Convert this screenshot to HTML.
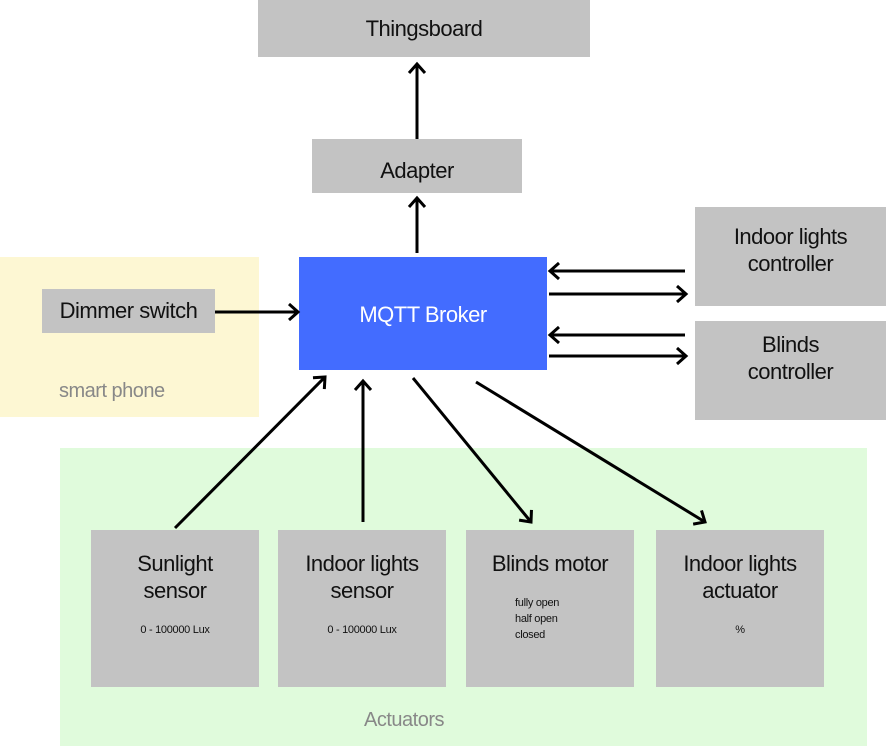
<!DOCTYPE html>
<html><head><style>
body{margin:0;width:886px;height:746px;background:#fff;position:relative;overflow:hidden;font-family:"Liberation Sans",sans-serif}
.b{position:absolute;background:#c3c3c3;color:#111;text-align:center;box-sizing:border-box}
.t{font-size:22px;letter-spacing:-0.5px;line-height:27px}
.s{font-size:11px;letter-spacing:-0.3px}
</style></head><body>
<div style="position:absolute;left:0;top:257px;width:259px;height:160px;background:#fdf7d3"></div>
<div style="position:absolute;left:60px;top:448px;width:807px;height:298px;background:#e0fbdc"></div>
<div style="position:absolute;left:59px;top:380px;font-size:20px;color:#888;letter-spacing:-0.5px">smart phone</div>
<div style="position:absolute;left:364px;top:709px;font-size:20px;color:#888;letter-spacing:-0.5px">Actuators</div>
<div class="b t" style="left:258px;top:0;width:332px;height:57px;padding-top:15px">Thingsboard</div>
<div class="b t" style="left:312px;top:139px;width:210px;height:54px;padding-top:18px">Adapter</div>
<div class="b" style="left:299px;top:257px;width:248px;height:113px;background:#436cff;color:#fff;font-size:22px;padding-top:45px;letter-spacing:-0.5px">MQTT Broker</div>
<div class="b t" style="left:42px;top:289px;width:173px;height:44px;padding-top:8px">Dimmer switch</div>
<div class="b t" style="left:695px;top:207px;width:191px;height:99px;padding-top:16px">Indoor lights<br>controller</div>
<div class="b t" style="left:695px;top:321px;width:191px;height:99px;padding-top:10px">Blinds<br>controller</div>
<div class="b" style="left:91px;top:530px;width:168px;height:157px;padding-top:20px"><div class="t">Sunlight<br>sensor</div><div class="s" style="margin-top:20px">0 - 100000 Lux</div></div>
<div class="b" style="left:278px;top:530px;width:168px;height:157px;padding-top:20px"><div class="t">Indoor lights<br>sensor</div><div class="s" style="margin-top:20px">0 - 100000 Lux</div></div>
<div class="b" style="left:466px;top:530px;width:168px;height:157px;padding-top:20px"><div class="t">Blinds motor</div><div class="s" style="margin-top:18px;text-align:left;padding-left:49px;line-height:16px">fully open<br>half open<br>closed</div></div>
<div class="b" style="left:656px;top:530px;width:168px;height:157px;padding-top:20px"><div class="t">Indoor lights<br>actuator</div><div class="s" style="margin-top:20px">%</div></div>
<svg width="886" height="746" style="position:absolute;left:0;top:0" fill="none" stroke="#000" stroke-width="3">
<defs><marker id="a" markerWidth="14" markerHeight="20" refX="11" refY="10" orient="auto" markerUnits="userSpaceOnUse"><path d="M2,2 L11,10 L2,18" stroke="#000" stroke-width="3" fill="none"/></marker></defs>
<g marker-end="url(#a)">
<line x1="417" y1="139" x2="417" y2="64"/>
<line x1="417" y1="253" x2="417" y2="198"/>
<line x1="215" y1="312" x2="298" y2="312"/>
<line x1="685" y1="271" x2="550" y2="271"/>
<line x1="549" y1="294" x2="686" y2="294"/>
<line x1="685" y1="335" x2="550" y2="335"/>
<line x1="549" y1="356" x2="686" y2="356"/>
<line x1="175" y1="528" x2="325" y2="377"/>
<line x1="363" y1="522" x2="363" y2="381"/>
<line x1="413" y1="378" x2="531" y2="522"/>
<line x1="476" y1="382" x2="705" y2="522"/>
</g></svg>
</body></html>
